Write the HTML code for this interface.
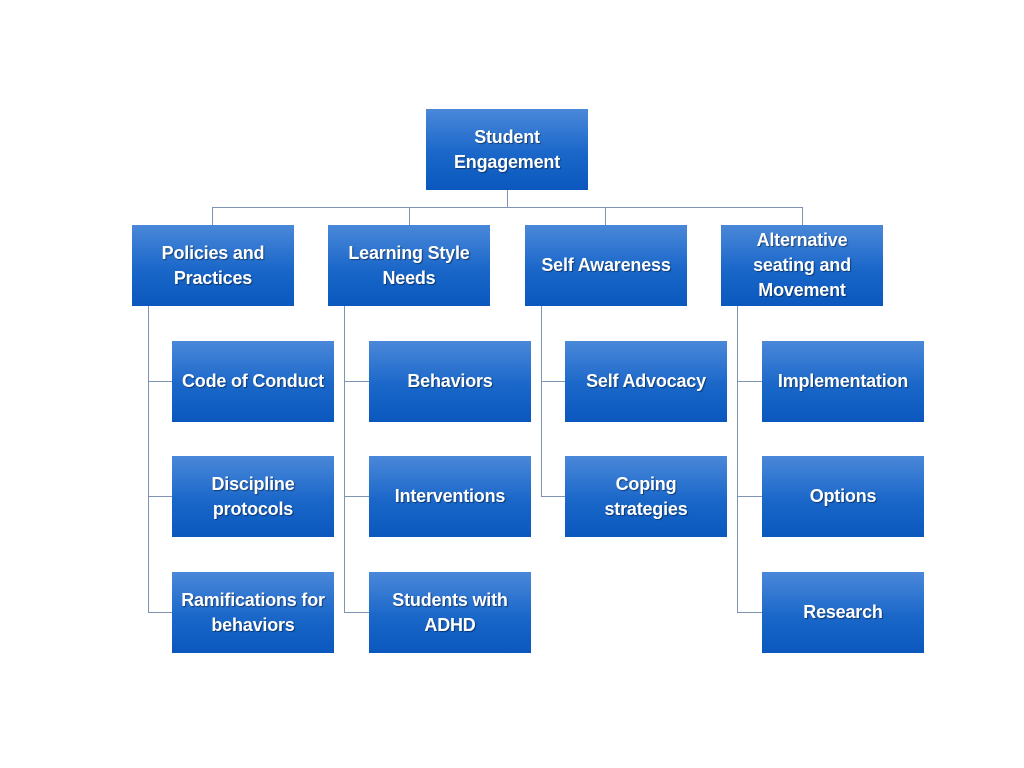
<!DOCTYPE html>
<html><head><style>
body{margin:0;width:1024px;height:768px;background:#fff;position:relative;overflow:hidden;font-family:"Liberation Sans",sans-serif}
.b{position:absolute;width:162px;height:81px;background:linear-gradient(#4a88d9,#1a67c9 55%,#0a58be);color:#fff;display:flex;align-items:center;justify-content:center;text-align:center;font-size:18px;line-height:25px;text-shadow:1px 1px 1px rgba(0,0,0,.45);letter-spacing:-0.2px;font-weight:bold}
.l{position:absolute;background:#7f93b2}
</style></head><body>
<div class="l" style="left:507px;top:190px;width:1px;height:18px"></div>
<div class="l" style="left:212px;top:207px;width:591px;height:1px"></div>
<div class="l" style="left:212px;top:207px;width:1px;height:18px"></div>
<div class="l" style="left:409px;top:207px;width:1px;height:18px"></div>
<div class="l" style="left:605px;top:207px;width:1px;height:18px"></div>
<div class="l" style="left:802px;top:207px;width:1px;height:18px"></div>
<div class="l" style="left:148px;top:306px;width:1px;height:306px"></div>
<div class="l" style="left:148px;top:381px;width:24px;height:1px"></div>
<div class="l" style="left:148px;top:496px;width:24px;height:1px"></div>
<div class="l" style="left:148px;top:612px;width:24px;height:1px"></div>
<div class="l" style="left:344px;top:306px;width:1px;height:306px"></div>
<div class="l" style="left:344px;top:381px;width:25px;height:1px"></div>
<div class="l" style="left:344px;top:496px;width:25px;height:1px"></div>
<div class="l" style="left:344px;top:612px;width:25px;height:1px"></div>
<div class="l" style="left:541px;top:306px;width:1px;height:190px"></div>
<div class="l" style="left:541px;top:381px;width:24px;height:1px"></div>
<div class="l" style="left:541px;top:496px;width:24px;height:1px"></div>
<div class="l" style="left:737px;top:306px;width:1px;height:306px"></div>
<div class="l" style="left:737px;top:381px;width:25px;height:1px"></div>
<div class="l" style="left:737px;top:496px;width:25px;height:1px"></div>
<div class="l" style="left:737px;top:612px;width:25px;height:1px"></div>

<div class="b" style="left:426px;top:109px">Student<br>Engagement</div>
<div class="b" style="left:132px;top:225px">Policies and<br>Practices</div>
<div class="b" style="left:328px;top:225px">Learning Style<br>Needs</div>
<div class="b" style="left:525px;top:225px">Self Awareness</div>
<div class="b" style="left:721px;top:225px">Alternative<br>seating and<br>Movement</div>

<div class="b" style="left:172px;top:341px">Code of Conduct</div>
<div class="b" style="left:172px;top:456px">Discipline<br>protocols</div>
<div class="b" style="left:172px;top:572px">Ramifications for<br>behaviors</div>
<div class="b" style="left:369px;top:341px">Behaviors</div>
<div class="b" style="left:369px;top:456px">Interventions</div>
<div class="b" style="left:369px;top:572px">Students with<br>ADHD</div>
<div class="b" style="left:565px;top:341px">Self Advocacy</div>
<div class="b" style="left:565px;top:456px">Coping<br>strategies</div>
<div class="b" style="left:762px;top:341px">Implementation</div>
<div class="b" style="left:762px;top:456px">Options</div>
<div class="b" style="left:762px;top:572px">Research</div>
</body></html>
